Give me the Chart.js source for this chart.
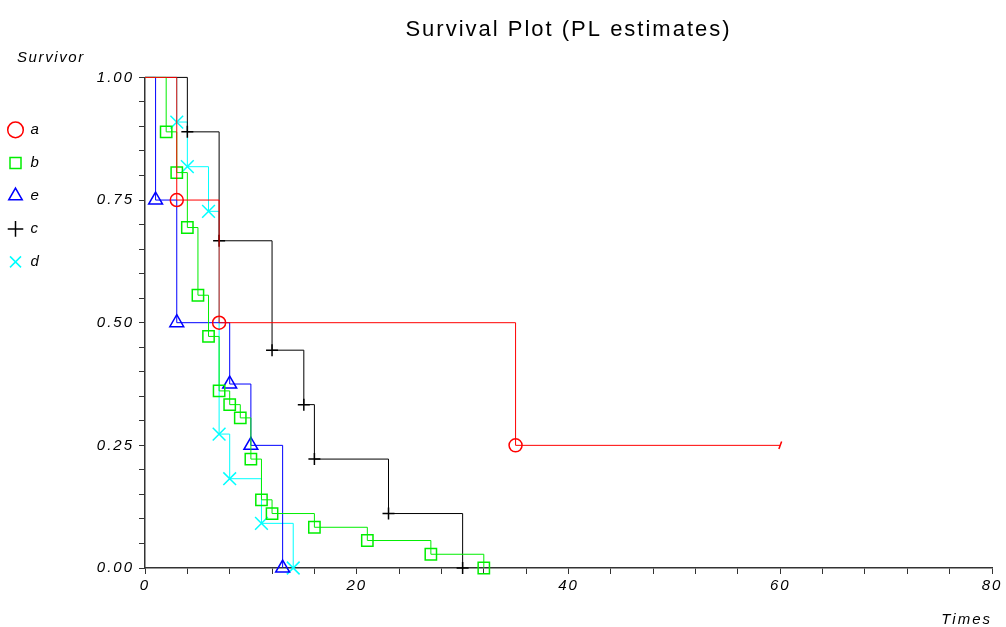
<!DOCTYPE html>
<html lang="en">
<head>
    <meta charset="UTF-8">
    <title>Survival Plot (PL estimates)</title>
    <script src="https://cdn.jsdelivr.net/npm/chart.js"></script>
    <style>
        body { margin: 0; background: #ffffff; font-family: "Liberation Sans", Arial, sans-serif; }
        #wrap { position: relative; width: 1006px; height: 627px; }
        #ylabel { position: absolute; left: 17px; top: 48px; font-size: 15px; font-style: italic; letter-spacing: 1.6px; color: #000; }
    </style>
</head>
<body>
    <div id="wrap">
        <canvas id="survChart" width="1006" height="627"></canvas>
        <div id="ylabel">Survivor</div>
    </div>

    <script>
        // Kaplan-Meier (product-limit) steps per group
        const timesA = [0, 3, 7, 35, 60];
        const survA  = [1, 0.75, 0.5, 0.25, 0.25];

        const timesB = [0, 2, 3, 4, 5, 6, 7, 8, 9, 10, 11, 12, 16, 21, 27, 32];
        const survB  = [1, 0.889, 0.806, 0.694, 0.556, 0.472, 0.361, 0.333, 0.306, 0.222, 0.139, 0.111, 0.083, 0.056, 0.028, 0];

        const timesE = [0, 1, 3, 8, 10, 13];
        const survE  = [1, 0.75, 0.5, 0.375, 0.25, 0];

        const timesC = [0, 4, 7, 12, 15, 16, 23, 30];
        const survC  = [1, 0.889, 0.667, 0.444, 0.333, 0.222, 0.111, 0];

        const timesD = [0, 3, 4, 6, 7, 8, 11, 14];
        const survD  = [1, 0.909, 0.818, 0.727, 0.273, 0.182, 0.091, 0];

        const groupNames = ['a', 'b', 'e', 'c', 'd'];
        const xTickLabels = [0, 20, 40, 60, 80];
        const yTickLabels = [0, 0.25, 0.5, 0.75, 1];

        const FONT = "'Liberation Sans', Arial, sans-serif";

        function pts(ts, ss) {
            return ts.map((t, i) => ({ x: t, y: ss[i] }));
        }

        // first point of each curve carries no marker
        function radii(n, r, last) {
            const out = new Array(n).fill(r);
            out[0] = 0;
            if (last !== undefined) out[n - 1] = last;
            return out;
        }

        function survSet(label, ts, ss, color, style, r) {
            return {
                label: label,
                data: pts(ts, ss),
                borderColor: color,
                borderWidth: 1,
                stepped: true,
                fill: false,
                clip: false,
                pointStyle: style,
                pointRadius: radii(ts.length, r),
                pointBorderColor: color,
                pointBackgroundColor: 'rgba(0,0,0,0)',
                pointBorderWidth: 1.5
            };
        }

        const setA = survSet(groupNames[0], timesA, survA, '#ff0000', 'circle', 6.5);
        // last red point is censored: short slash instead of a marker
        setA.pointStyle = timesA.map((t, i) => i === timesA.length - 1 ? 'line' : 'circle');
        setA.rotation = timesA.map((t, i) => i === timesA.length - 1 ? -70 : 0);
        setA.pointRadius = radii(timesA.length, 6.5, 4);

        const datasets = [
            setA,
            survSet(groupNames[1], timesB, survB, '#00ee00', 'rect', 8),
            survSet(groupNames[2], timesE, survE, '#0000ff', 'triangle', 8),
            survSet(groupNames[3], timesC, survC, '#000000', 'cross', 6),
            survSet(groupNames[4], timesD, survD, '#00ffff', 'crossRot', 9)
        ];

        function onList(list, v) {
            return list.some(l => Math.abs(l - v) < 1e-6);
        }

        // the original plot uses widely spaced lettering
        const spacing = {
            id: 'spacing',
            beforeUpdate(chart) { chart.ctx.letterSpacing = '2px'; },
            beforeDraw(chart) { chart.ctx.letterSpacing = '2px'; }
        };

        const ctx = document.getElementById('survChart').getContext('2d');
        const survChart = new Chart(ctx, {
            type: 'line',
            data: { datasets: datasets },
            plugins: [spacing],
            options: {
                responsive: false,
                animation: false,
                devicePixelRatio: 1,
                layout: { padding: { left: -10, right: 14, top: 0, bottom: 0 } },
                plugins: {
                    title: {
                        display: true,
                        text: 'Survival Plot (PL estimates)',
                        fullSize: false,
                        color: '#000',
                        font: { family: FONT, size: 22, weight: 'normal' },
                        padding: { top: 17, bottom: 34 }
                    },
                    legend: {
                        position: 'left',
                        align: 'start',
                        title: { display: true, text: '', font: { size: 12 }, padding: { top: 90, bottom: 0 } },
                        labels: {
                            usePointStyle: true,
                            boxHeight: 11,
                            padding: 18,
                            color: '#000',
                            font: { family: FONT, size: 15, style: 'italic' }
                        }
                    },
                    tooltip: { enabled: false }
                },
                scales: {
                    x: {
                        type: 'linear',
                        min: 0,
                        max: 80,
                        afterFit: s => { s.height = 59; },
                        border: { display: true, color: '#333', width: 1.5 },
                        grid: { drawOnChartArea: false, drawTicks: true, tickLength: 6, color: '#333' },
                        ticks: {
                            stepSize: 4,
                            autoSkip: false,
                            maxRotation: 0,
                            padding: 3,
                            color: '#000',
                            font: { family: FONT, size: 15, style: 'italic' },
                            callback: v => onList(xTickLabels, v) ? String(v) : ''
                        },
                        title: {
                            display: true,
                            text: 'Times',
                            align: 'end',
                            color: '#000',
                            font: { family: FONT, size: 15, style: 'italic', lineHeight: 1 },
                            padding: { top: 0, bottom: 0 }
                        }
                    },
                    y: {
                        min: 0,
                        max: 1,
                        afterFit: s => { s.width = 155 - s.chart.legend.width; },
                        border: { display: true, color: '#333', width: 1.5 },
                        grid: { drawOnChartArea: false, drawTicks: true, tickLength: 6, color: '#333' },
                        ticks: {
                            stepSize: 0.05,
                            autoSkip: false,
                            padding: 5,
                            color: '#000',
                            font: { family: FONT, size: 15, style: 'italic' },
                            callback: v => onList(yTickLabels, v) ? v.toFixed(2) : ''
                        }
                    }
                }
            }
        });
    </script>
</body>
</html>
